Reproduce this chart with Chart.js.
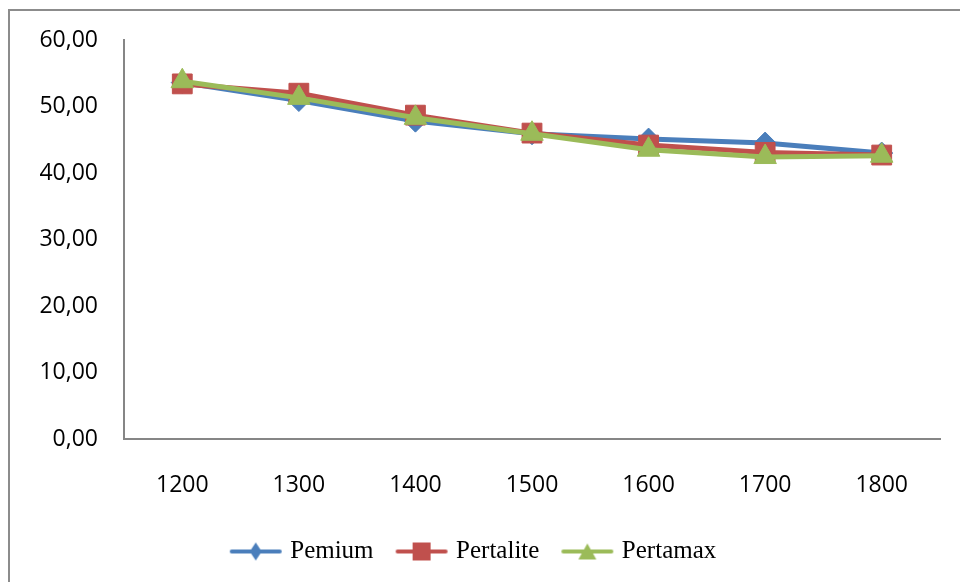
<!DOCTYPE html>
<html>
<head>
<meta charset="utf-8">
<script src="https://cdn.jsdelivr.net/npm/chart.js@4.4.0/dist/chart.umd.min.js"></script>
<style>
html, body { margin: 0; padding: 0; background: #fff; overflow: hidden; }
#wrap { position: relative; width: 960px; height: 582px; }
#frame { position: absolute; left: 8px; top: 9px; width: 1000px; height: 1000px; border: 2px solid #8c8c8c; pointer-events: none; }
</style>
</head>
<body>
<div id="wrap">
  <canvas id="chart" width="960" height="582"></canvas>
  <div id="frame"></div>
</div>
<script>
const labels = ['1200', '1300', '1400', '1500', '1600', '1700', '1800'];
const pemium = [53.6, 50.9, 47.8, 45.9, 45.1, 44.5, 43.0];
const pertalite = [53.4, 52.0, 48.7, 46.0, 44.2, 43.1, 42.7];
const pertamax = [53.8, 51.3, 48.3, 45.9, 43.5, 42.4, 42.6];

const blue = '#4a7ebb';
const red = '#c0504d';
const green = '#9bbb59';

// little line + marker pictures for the legend, like the office style
function legendIcon(color, style) {
    const c = document.createElement('canvas');
    c.width = 54;
    c.height = 22;
    const g = c.getContext('2d');
    g.strokeStyle = color;
    g.lineWidth = 4;
    g.lineCap = 'round';
    g.beginPath();
    g.moveTo(3, 11);
    g.lineTo(51, 11);
    g.stroke();
    g.fillStyle = color;
    g.beginPath();
    if (style === 'rectRot') {
        g.moveTo(27, 2); g.lineTo(33, 11); g.lineTo(27, 20); g.lineTo(21, 11);
    } else if (style === 'rect') {
        g.rect(18, 2, 18, 18);
    } else {
        g.moveTo(27, 3); g.lineTo(36, 19); g.lineTo(18, 19);
    }
    g.closePath();
    g.fill();
    return c;
}

const icons = [legendIcon(blue, 'rectRot'), legendIcon(red, 'rect'), legendIcon(green, 'triangle')];

const ctx = document.getElementById('chart').getContext('2d');

const chart = new Chart(ctx, {
    type: 'line',
    data: {
        labels: labels,
        datasets: [{
            label: 'Pemium',
            data: pemium,
            borderColor: blue,
            backgroundColor: blue,
            pointStyle: 'rectRot',
            pointRadius: 11,
            order: 2
        }, {
            label: 'Pertalite',
            data: pertalite,
            borderColor: red,
            backgroundColor: red,
            pointStyle: 'rect',
            pointRadius: 14,
            order: 1
        }, {
            label: 'Pertamax',
            data: pertamax,
            borderColor: green,
            backgroundColor: green,
            pointStyle: 'triangle',
            pointRadius: 13,
            order: 0
        }]
    },
    options: {
        responsive: false,
        animation: false,
        devicePixelRatio: 1,
        elements: {
            line: { borderWidth: 5, tension: 0 },
            point: { borderWidth: 1 }
        },
        layout: {
            padding: { top: 40, right: 20, left: 10, bottom: 8 }
        },
        scales: {
            x: {
                offset: true,
                grid: { display: false },
                border: { color: '#868686', width: 2 },
                ticks: {
                    color: '#000',
                    font: { family: 'Open Sans', size: 23 },
                    padding: 25,
                    maxRotation: 0
                },
                afterFit: function (scale) { scale.height = 74; }
            },
            y: {
                min: 0,
                max: 60,
                grid: { display: false },
                border: { color: '#868686', width: 2 },
                ticks: {
                    stepSize: 10,
                    color: '#000',
                    font: { family: 'Open Sans', size: 23 },
                    padding: 18,
                    callback: function (v) { return v.toFixed(2).replace('.', ','); }
                },
                afterFit: function (scale) { scale.width = 114; }
            }
        },
        plugins: {
            tooltip: { enabled: false },
            legend: {
                position: 'bottom',
                maxHeight: 62,
                labels: {
                    usePointStyle: true,
                    pointStyleWidth: 44,
                    padding: 26,
                    color: '#000',
                    font: { family: 'Liberation Serif', size: 25 },
                    generateLabels: function (chart) {
                        return chart.data.datasets.map(function (ds, i) {
                            return {
                                text: ds.label,
                                pointStyle: icons[i],
                                fillStyle: ds.borderColor,
                                strokeStyle: ds.borderColor,
                                lineWidth: 0,
                                hidden: false,
                                datasetIndex: i
                            };
                        });
                    }
                }
            }
        }
    }
});
</script>
</body>
</html>
